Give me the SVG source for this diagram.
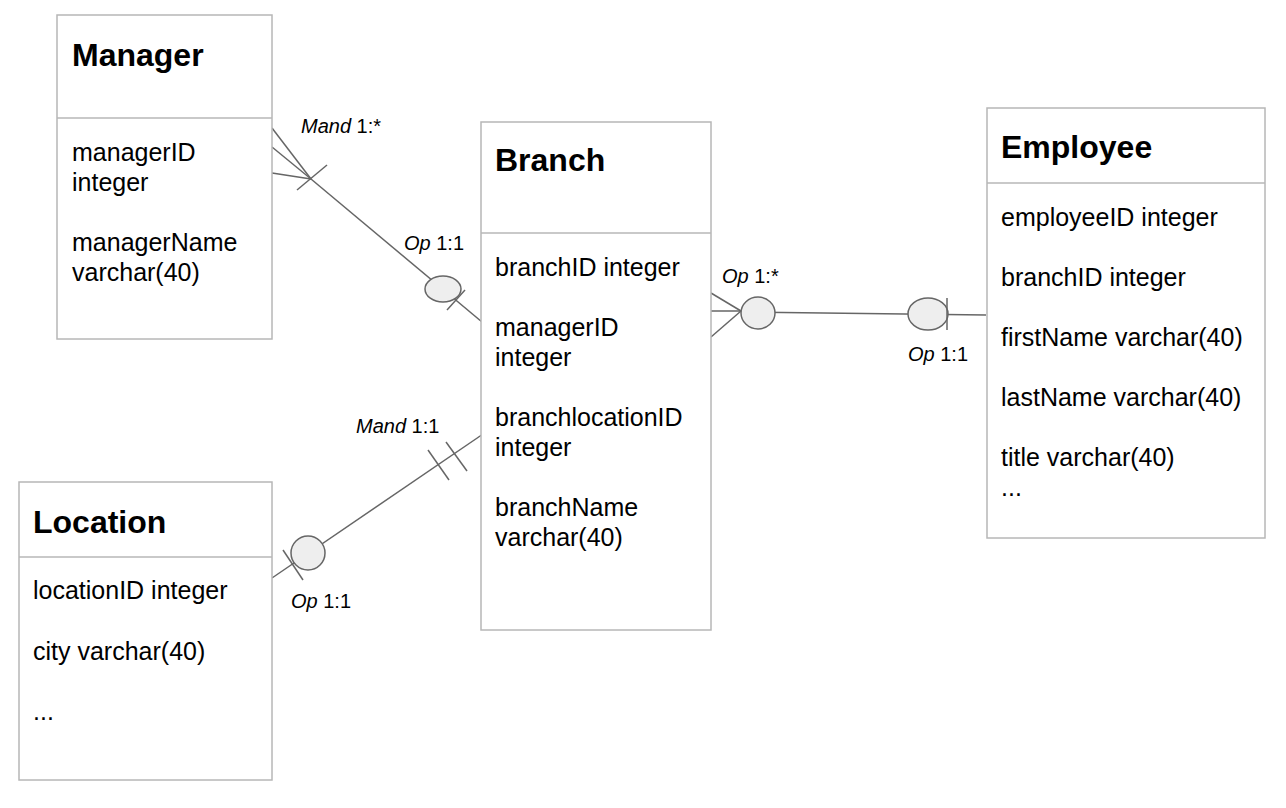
<svg xmlns="http://www.w3.org/2000/svg" width="1286" height="808" viewBox="0 0 1286 808">
<style>
.box{fill:#ffffff;stroke:#b7b7b7;stroke-width:1.5}
.div{stroke:#b7b7b7;stroke-width:1.5}
.title{font-family:"Liberation Sans",Arial,sans-serif;font-weight:bold;font-size:32px;fill:#000}
.body{font-family:"Liberation Sans",Arial,sans-serif;font-size:25px;fill:#000}
.lbl{font-family:"Liberation Sans",Arial,sans-serif;font-size:20px;fill:#000}
.ln{stroke:#666;stroke-width:1.5;fill:none}
.el{fill:#eeeeee;stroke:#666;stroke-width:1.5}
</style>
<rect width="1286" height="808" fill="#ffffff"/>
<g id="connectors">
  <!-- Manager - Branch -->
  <line class="ln" x1="272" y1="128" x2="311" y2="179"/>
  <line class="ln" x1="272" y1="147" x2="311" y2="179"/>
  <line class="ln" x1="272" y1="173" x2="311" y2="179"/>
  <line class="ln" x1="311" y1="179" x2="482" y2="322"/>
  <line class="ln" x1="297" y1="190" x2="327" y2="165"/>
  <ellipse class="el" cx="443" cy="289" rx="18" ry="13"/>
  <line class="ln" x1="447" y1="310" x2="465" y2="290"/>
  <text class="lbl" x="301" y="133"><tspan font-style="italic">Mand</tspan> 1:*</text>
  <text class="lbl" x="404" y="250"><tspan font-style="italic">Op</tspan> 1:1</text>
  <!-- Location - Branch -->
  <line class="ln" x1="272" y1="578" x2="486" y2="432"/>
  <line class="ln" x1="283" y1="550" x2="303" y2="580"/>
  <ellipse class="el" cx="308" cy="553" rx="17" ry="17"/>
  <line class="ln" x1="428" y1="450" x2="449" y2="480"/>
  <line class="ln" x1="446" y1="442" x2="467" y2="471"/>
  <text class="lbl" x="356" y="433"><tspan font-style="italic">Mand</tspan> 1:1</text>
  <text class="lbl" x="291" y="608"><tspan font-style="italic">Op</tspan> 1:1</text>
  <!-- Branch - Employee -->
  <line class="ln" x1="711" y1="293" x2="741" y2="311"/>
  <line class="ln" x1="707" y1="311" x2="741" y2="311"/>
  <line class="ln" x1="711" y1="337" x2="741" y2="311"/>
  <line class="ln" x1="741" y1="312" x2="986" y2="315"/>
  <ellipse class="el" cx="758" cy="313" rx="17" ry="16"/>
  <ellipse class="el" cx="928" cy="314" rx="20" ry="16"/>
  <line class="ln" x1="947" y1="298" x2="947" y2="330"/>
  <text class="lbl" x="722" y="283"><tspan font-style="italic">Op</tspan> 1:*</text>
  <text class="lbl" x="908" y="361"><tspan font-style="italic">Op</tspan> 1:1</text>
</g>
<g id="manager">
  <rect class="box" x="57" y="15" width="215" height="324"/>
  <line class="div" x1="57" y1="118" x2="272" y2="118"/>
  <text class="title" x="72" y="66">Manager</text>
  <text class="body" x="72" y="161">managerID</text>
  <text class="body" x="72" y="191">integer</text>
  <text class="body" x="72" y="251">managerName</text>
  <text class="body" x="72" y="281">varchar(40)</text>
</g>
<g id="branch">
  <rect class="box" x="481" y="122" width="230" height="508"/>
  <line class="div" x1="481" y1="233" x2="711" y2="233"/>
  <text class="title" x="495" y="171">Branch</text>
  <text class="body" x="495" y="276">branchID integer</text>
  <text class="body" x="495" y="336">managerID</text>
  <text class="body" x="495" y="366">integer</text>
  <text class="body" x="495" y="426">branchlocationID</text>
  <text class="body" x="495" y="456">integer</text>
  <text class="body" x="495" y="516">branchName</text>
  <text class="body" x="495" y="546">varchar(40)</text>
</g>
<g id="employee">
  <rect class="box" x="987" y="108" width="278" height="430"/>
  <line class="div" x1="987" y1="183" x2="1265" y2="183"/>
  <text class="title" x="1001" y="158">Employee</text>
  <text class="body" x="1001" y="226">employeeID integer</text>
  <text class="body" x="1001" y="286">branchID integer</text>
  <text class="body" x="1001" y="346">firstName varchar(40)</text>
  <text class="body" x="1001" y="406">lastName varchar(40)</text>
  <text class="body" x="1001" y="466">title varchar(40)</text>
  <text class="body" x="1001" y="496">...</text>
</g>
<g id="location">
  <rect class="box" x="19" y="482" width="253" height="298"/>
  <line class="div" x1="19" y1="557" x2="272" y2="557"/>
  <text class="title" x="33" y="533">Location</text>
  <text class="body" x="33" y="599">locationID integer</text>
  <text class="body" x="33" y="660">city varchar(40)</text>
  <text class="body" x="33" y="720">...</text>
</g>
</svg>
